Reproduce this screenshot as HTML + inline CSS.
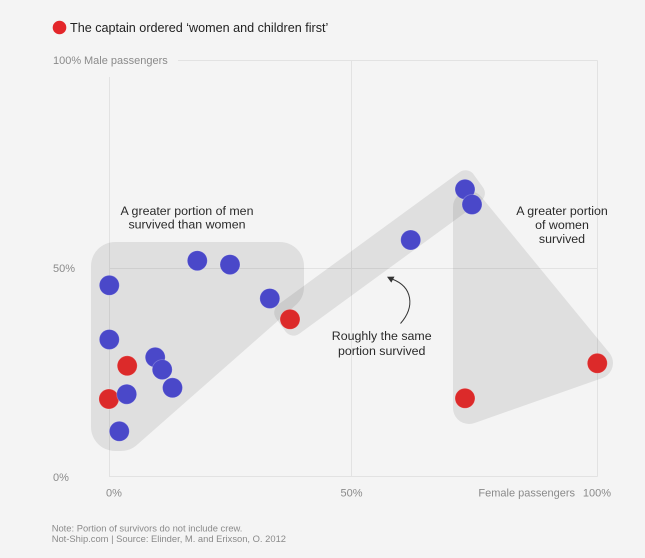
<!DOCTYPE html>
<html>
<head>
<meta charset="utf-8">
<style>
  html, body { margin: 0; padding: 0; background: #f4f4f4; }
  svg { display: block; }
  text { font-family: "Liberation Sans", "DejaVu Sans", sans-serif; }
</style>
</head>
<body>
<svg width="645" height="558" viewBox="0 0 645 558" xmlns="http://www.w3.org/2000/svg">
  <rect x="0" y="0" width="645" height="558" fill="#f4f4f4"/>

  <!-- Legend -->
  <circle cx="59.5" cy="27.5" r="6.8" fill="#e3262a"/>
  <text x="70" y="31.8" font-size="12.6" fill="#222">The captain ordered ‘women and children first’</text>

  <!-- Gridlines -->
  <g stroke="#e2e2e2" stroke-width="1" fill="none">
    <line x1="178" y1="60.5" x2="597.5" y2="60.5"/>
    <line x1="109" y1="268.5" x2="597.5" y2="268.5"/>
    <line x1="109" y1="476.5" x2="597.5" y2="476.5"/>
    <line x1="109.5" y1="77" x2="109.5" y2="476.5"/>
    <line x1="351.5" y1="60.5" x2="351.5" y2="476.5"/>
    <line x1="597.5" y1="60.5" x2="597.5" y2="476.5"/>
  </g>

  <!-- Axis labels -->
  <g font-size="11" fill="#8a8a8a">
    <text x="53" y="64">100%</text>
    <text x="84" y="64">Male passengers</text>
    <text x="53" y="271.8">50%</text>
    <text x="53" y="481">0%</text>
    <text x="114" y="496.7" text-anchor="middle">0%</text>
    <text x="351.5" y="496.7" text-anchor="middle">50%</text>
    <text x="575" y="496.7" text-anchor="end">Female passengers</text>
    <text x="597" y="496.7" text-anchor="middle">100%</text>
  </g>

  <!-- Group shapes -->
  <g opacity="0.08">
    <polygon points="115,266 280,266 280,287 121,427 115,427" fill="#000" stroke="#000" stroke-width="48" stroke-linejoin="round"/>
  </g>
  <g opacity="0.08">
    <polygon points="284.2,312.6 465.5,180.2 474.9,193.2 293.6,325.6" fill="#000" stroke="#000" stroke-width="20" stroke-linejoin="round"/>
  </g>
  <g opacity="0.08">
    <polygon points="469,207 469,408 597,363" fill="#000" stroke="#000" stroke-width="32" stroke-linejoin="round"/>
  </g>

  <!-- Red points -->
  <g fill="#dc2a2a" stroke="rgba(255,255,255,0.25)" stroke-width="0.8">
    <circle cx="290" cy="319.3" r="10"/>
    <circle cx="127.2" cy="365.8" r="10"/>
    <circle cx="108.9" cy="399" r="10"/>
    <circle cx="465" cy="398.3" r="10"/>
    <circle cx="597.3" cy="363.3" r="10"/>
  </g>

  <!-- Blue points -->
  <g fill="#4a48c9" stroke="rgba(255,255,255,0.25)" stroke-width="0.8">
    <circle cx="197.3" cy="260.7" r="10"/>
    <circle cx="230" cy="264.6" r="10"/>
    <circle cx="109.3" cy="285.3" r="10"/>
    <circle cx="269.8" cy="298.5" r="10"/>
    <circle cx="109.3" cy="339.5" r="10"/>
    <circle cx="155.2" cy="357.3" r="10"/>
    <circle cx="162.2" cy="369.6" r="10"/>
    <circle cx="172.5" cy="387.8" r="10"/>
    <circle cx="126.7" cy="394.2" r="10"/>
    <circle cx="119.3" cy="431.3" r="10"/>
    <circle cx="410.7" cy="240" r="10"/>
    <circle cx="465" cy="189.3" r="10"/>
    <circle cx="472" cy="204.5" r="10"/>
  </g>

  <!-- Annotations -->
  <g font-size="12.4" fill="#2a2a2a" text-anchor="middle">
    <text x="187" y="214.8">A greater portion of men</text>
    <text x="187" y="228.6">survived than women</text>
    <text x="562" y="215">A greater portion</text>
    <text x="562" y="229">of women</text>
    <text x="562" y="243">survived</text>
    <text x="381.7" y="340">Roughly the same</text>
    <text x="381.7" y="355">portion survived</text>
  </g>

  <!-- Arrow -->
  <path d="M400.5,323.5 C415,307 413,287 392,279" fill="none" stroke="#333" stroke-width="1"/>
  <polygon points="387,276.8 394.5,276.6 391.3,282.6" fill="#333"/>

  <!-- Footnote -->
  <g font-size="9.4" fill="#8a8a8a">
    <text x="51.7" y="531.5">Note: Portion of survivors do not include crew.</text>
    <text x="51.7" y="541.8">Not-Ship.com | Source: Elinder, M. and Erixson, O. 2012</text>
  </g>
</svg>
</body>
</html>
